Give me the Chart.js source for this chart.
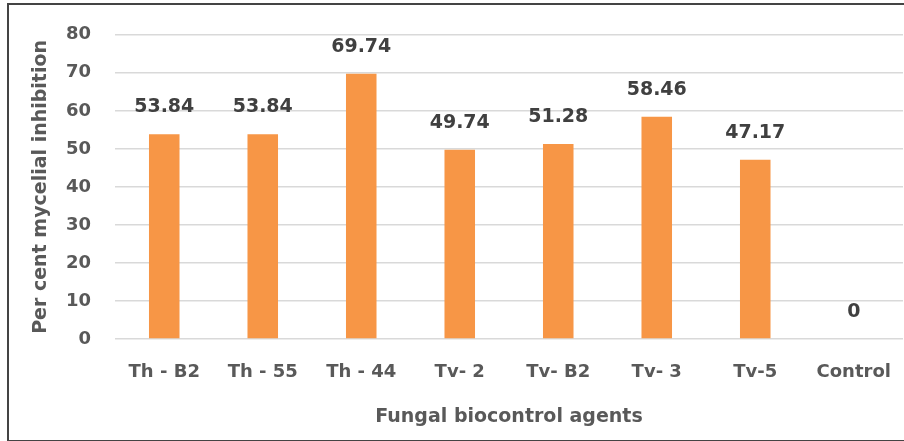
<!DOCTYPE html>
<html>
<head>
<meta charset="utf-8">
<script src="https://cdn.jsdelivr.net/npm/chart.js@4"></script>
<style>
  html, body { margin: 0; padding: 0; background: #fff; }
  #wrap { position: relative; width: 904px; height: 441px; overflow: hidden; }
  #frame { position: absolute; left: 7px; top: 3px; width: 910px; height: 435px;
           border: 2px solid #444; pointer-events: none; }
</style>
</head>
<body>
<div id="wrap">
  <canvas id="myChart" width="904" height="441"></canvas>
  <div id="frame"></div>
</div>
<script>
const agents = ['Th - B2', 'Th - 55', 'Th - 44', 'Tv- 2', 'Tv- B2', 'Tv- 3', 'Tv-5', 'Control'];
const inhibition = [53.84, 53.84, 69.74, 49.74, 51.28, 58.46, 47.17, 0];
const yTicks = [0, 10, 20, 30, 40, 50, 60, 70, 80];

const fontFam = '"DejaVu Sans", sans-serif';

// valores encima de cada barra
const barLabels = {
    id: 'barLabels',
    afterDatasetsDraw(chart) {
        const ctx = chart.ctx;
        const meta = chart.getDatasetMeta(0);
        ctx.save();
        ctx.font = 'bold 19px ' + fontFam;
        ctx.fillStyle = '#404040';
        ctx.textAlign = 'center';
        ctx.textBaseline = 'middle';
        meta.data.forEach((bar, i) => {
            ctx.fillText(String(inhibition[i]), bar.x, bar.y - 27);
        });
        ctx.restore();
    }
};

const ctx = document.getElementById('myChart').getContext('2d');
const myChart = new Chart(ctx, {
    type: 'bar',
    data: {
        labels: agents,
        datasets: [{
            data: inhibition,
            backgroundColor: '#F79646',
            borderWidth: 0,
            categoryPercentage: 1,
            barPercentage: 0.31
        }]
    },
    options: {
        responsive: false,
        animation: false,
        layout: { padding: { top: 31, right: 1, left: 0, bottom: 0 } },
        plugins: { legend: { display: false }, tooltip: { enabled: false } },
        scales: {
            x: {
                grid: { display: false, drawTicks: false },
                border: { display: false },
                ticks: {
                    padding: 23,
                    color: '#595959',
                    font: { family: fontFam, size: 18, weight: 'bold' }
                },
                title: {
                    display: true,
                    text: 'Fungal biocontrol agents',
                    color: '#595959',
                    padding: { top: 0, bottom: 13 },
                    font: { family: fontFam, size: 19, weight: 'bold' }
                },
                afterFit: scale => {
                    scale.height = 102;
                    scale.paddingLeft = 0;
                    scale.paddingRight = 0;
                }
            },
            y: {
                min: 0,
                max: 80,
                afterBuildTicks: scale => { scale.ticks = yTicks.map(v => ({ value: v })); },
                grid: { color: '#D9D9D9', lineWidth: 1.5, drawTicks: false },
                border: { display: false },
                ticks: {
                    padding: 24,
                    color: '#595959',
                    font: { family: fontFam, size: 18, weight: 'bold' }
                },
                title: {
                    display: true,
                    text: 'Per cent mycelial inhibition',
                    color: '#595959',
                    padding: { top: 30, bottom: 0 },
                    font: { family: fontFam, size: 19, weight: 'bold' }
                },
                afterFit: scale => { scale.width = 115; }
            }
        }
    },
    plugins: [barLabels]
});
</script>
</body>
</html>
